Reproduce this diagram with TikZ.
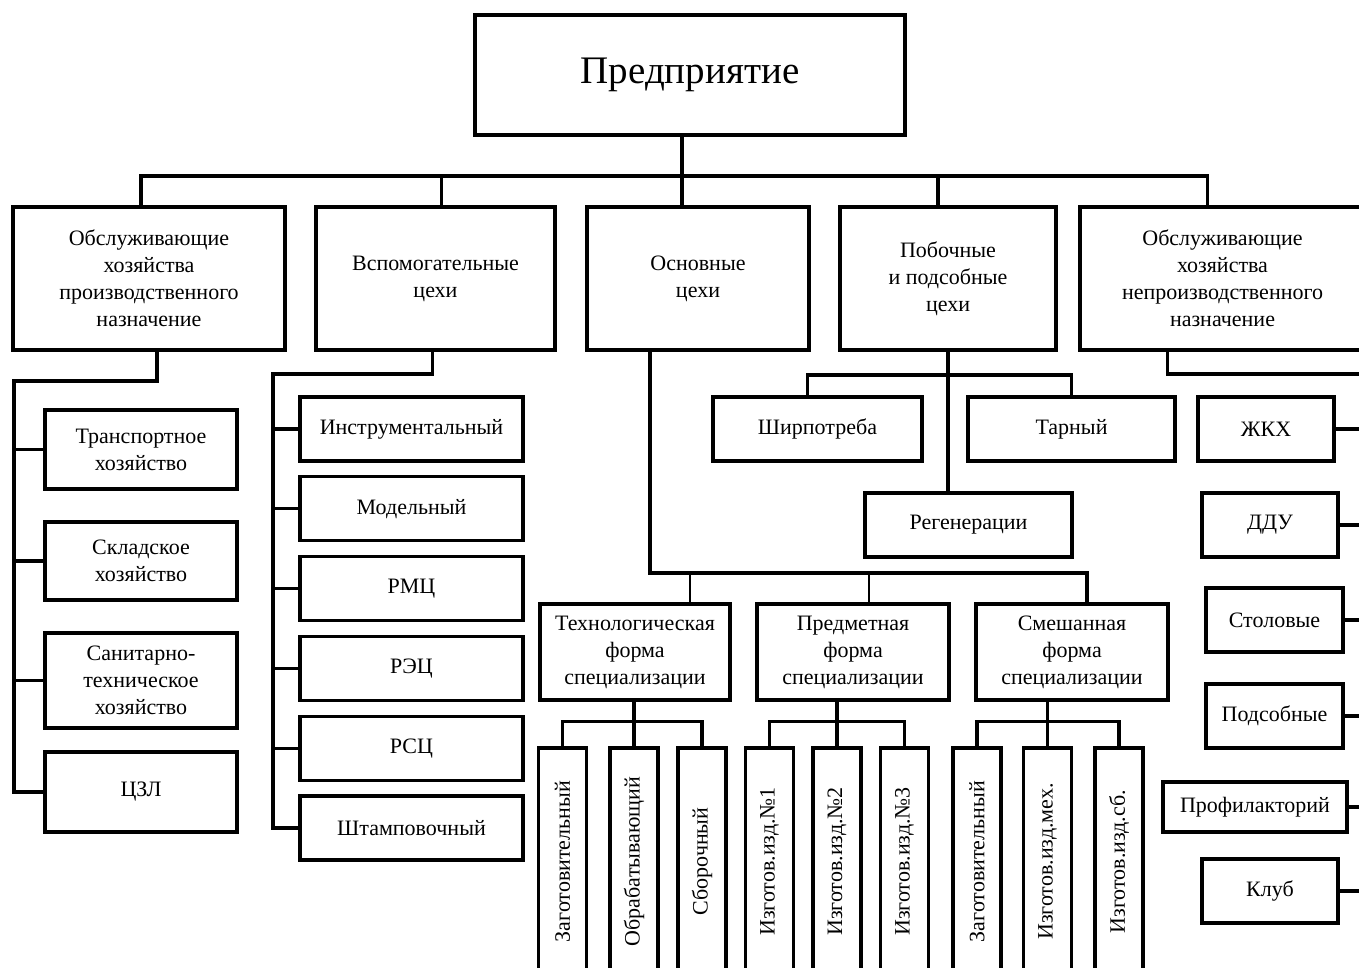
\documentclass[tikz,border=0pt]{standalone}
\usepackage{fontspec}
\setmainfont{Liberation Serif}
\usepackage{graphicx}

\begin{document}
\begin{tikzpicture}[x=1pt, y=-1pt,
  box/.style={draw, line width=3.3pt, align=center, inner sep=0pt,
    font=\fontsize{22}{27}\selectfont},
  leaf/.style={box, minimum width=48, minimum height=227},
  link/.style={line width=3.2pt},
  thinlink/.style={line width=1.6pt}]
  \useasboundingbox (0,0) rectangle (1359,967);
  \clip (0,0) rectangle (1359,967);

  % Top box
  \node[box, minimum width=430, minimum height=120, font=\fontsize{39}{45}\selectfont] (firm) at (690,75) {Предприятие};

  % Second row
  \node[box, minimum width=272, minimum height=143] (prodserv) at (149,278.5) {Обслуживающие\\хозяйства\\производственного\\назначение};
  \node[box, minimum width=239, minimum height=143] (auxshops) at (435.5,278.5) {Вспомогательные\\цехи};
  \node[box, minimum width=222, minimum height=143] (mainshops) at (698,278.5) {Основные\\цехи};
  \node[box, minimum width=216, minimum height=143] (sideshops) at (948,278.5) {Побочные\\и подсобные\\цехи};
  \node[box, minimum width=285, minimum height=143] (nonprodserv) at (1222.5,278.5) {Обслуживающие\\хозяйства\\непроизводственного\\назначение};

  % Main bus
  \coordinate (bustop) at (0,176);
  \draw[link] ([xshift=-8]firm.south) -- ([xshift=-8]firm.south |- bustop);
  \draw[link] ([xshift=-8]prodserv.north) |- ([xshift=-15]nonprodserv.north |- bustop) -- ([xshift=-15]nonprodserv.north);
  \foreach \n/\s in {auxshops/6, mainshops/-16, sideshops/-10}
    \draw[link] ([xshift=\s]\n.north) -- ([xshift=\s]\n.north |- bustop);

  % Production services
  \node[box, minimum width=192, minimum height=79] (transp) at (141,449.5) {Транспортное\\хозяйство};
  \node[box, minimum width=192, minimum height=78] (store) at (141,561) {Складское\\хозяйство};
  \node[box, minimum width=192, minimum height=95] (sanit) at (141,680.5) {Санитарно-\\техническое\\хозяйство};
  \node[box, minimum width=192, minimum height=80] (lab) at (141,792) {ЦЗЛ};
  \coordinate (busprod) at (14,381);
  \draw[link] ([xshift=8]prodserv.south) |- (busprod) |- (lab.west);
  \foreach \n in {transp,store,sanit}
    \draw[link] (\n.west) -- (\n.west -| busprod);

  % Auxiliary shops
  \foreach \n/\t [count=\i from 0] in {tool/Инструментальный, model/Модельный, rmc/РМЦ, rec/РЭЦ, rsc/РСЦ, stamp/Штамповочный}
    \node[box, minimum width=223, minimum height=64] (\n) at (411.5,{429+79.8*\i}) {\t};
  \coordinate (busaux) at (273,374);
  \draw[link] ([xshift=-3]auxshops.south) |- (busaux) |- (stamp.west);
  \foreach \n in {tool,model,rmc,rec,rsc}
    \draw[link] (\n.west) -- (\n.west -| busaux);

  % Side shops
  \node[box, minimum width=209, minimum height=64] (consumer) at (817.5,429) {Ширпотреба};
  \node[box, minimum width=207, minimum height=64] (tare) at (1071.5,429) {Тарный};
  \node[box, minimum width=207, minimum height=64] (regen) at (968.5,525) {Регенерации};
  \coordinate (busside) at (948,375);
  \draw[link] (sideshops.south) -- (sideshops.south |- regen.north);
  \draw[link] ([xshift=-10]consumer.north) |- (busside) -| (tare.north);

  % Non-production services
  \node[box, minimum width=136, minimum height=64] (housing) at (1266,429) {ЖКХ};
  \node[box, minimum width=136, minimum height=64] (kinder) at (1270,525) {ДДУ};
  \node[box, minimum width=137, minimum height=64] (canteen) at (1274.5,620) {Столовые};
  \node[box, minimum width=137, minimum height=64] (subsid) at (1274.5,716) {Подсобные};
  \node[box, minimum width=184, minimum height=50] (prophyl) at (1255,807) {Профилакторий};
  \node[box, minimum width=136, minimum height=64] (club) at (1270,891) {Клуб};
  \coordinate (busnon) at (1366,374);
  \draw[link] ([xshift=-55]nonprodserv.south) |- (busnon) -- (busnon |- club.east);
  \foreach \n in {housing,kinder,canteen,subsid,prophyl,club}
    \draw[link] (\n.east) -- (\n.east -| busnon);

  % Specialisation forms
  \node[box, minimum width=190, minimum height=96] (techform) at (635,652) {Технологическая\\форма\\специализации};
  \node[box, minimum width=192, minimum height=96] (subjform) at (853,652) {Предметная\\форма\\специализации};
  \node[box, minimum width=192, minimum height=96] (mixform) at (1072,652) {Смешанная\\форма\\специализации};
  \coordinate (busmain) at (650,573);
  \draw[link] ([xshift=-48]mainshops.south) |- ([xshift=15]mixform.north |- busmain) -- ([xshift=15]mixform.north);
  \draw[thinlink] ([xshift=55]techform.north) -- ([xshift=55]techform.north |- busmain);
  \draw[thinlink] ([xshift=16]subjform.north) -- ([xshift=16]subjform.north |- busmain);

  % Shops of each form
  \node[leaf] (tl1) at (562.5,861.5) {\rotatebox{90}{Заготовительный}};
  \node[leaf] (tl2) at (634,861.5) {\rotatebox{90}{Обрабатывающий}};
  \node[leaf] (tl3) at (702,861.5) {\rotatebox{90}{Сборочный}};
  \node[leaf] (sl1) at (769.5,861.5) {\rotatebox{90}{Изготов.изд.№1}};
  \node[leaf] (sl2) at (837,861.5) {\rotatebox{90}{Изготов.изд.№2}};
  \node[leaf] (sl3) at (904.5,861.5) {\rotatebox{90}{Изготов.изд.№3}};
  \node[leaf] (ml1) at (977,861.5) {\rotatebox{90}{Заготовительный}};
  \node[leaf] (ml2) at (1047.5,861.5) {\rotatebox{90}{Изготов.изд.мех.}};
  \node[leaf] (ml3) at (1119,861.5) {\rotatebox{90}{Изготов.изд.сб.}};
  \draw[link] (tl2.north |- techform.south) -- (tl2.north);
  \draw[link] (tl1.north) -- ++(0,-25) -| (tl3.north);
  \draw[link] (sl2.north |- subjform.south) -- (sl2.north);
  \draw[link] (sl1.north) -- ++(0,-25) -| (sl3.north);
  \draw[link] (ml2.north |- mixform.south) -- (ml2.north);
  \draw[link] (ml1.north) -- ++(0,-25) -| (ml3.north);
\end{tikzpicture}
\end{document}
